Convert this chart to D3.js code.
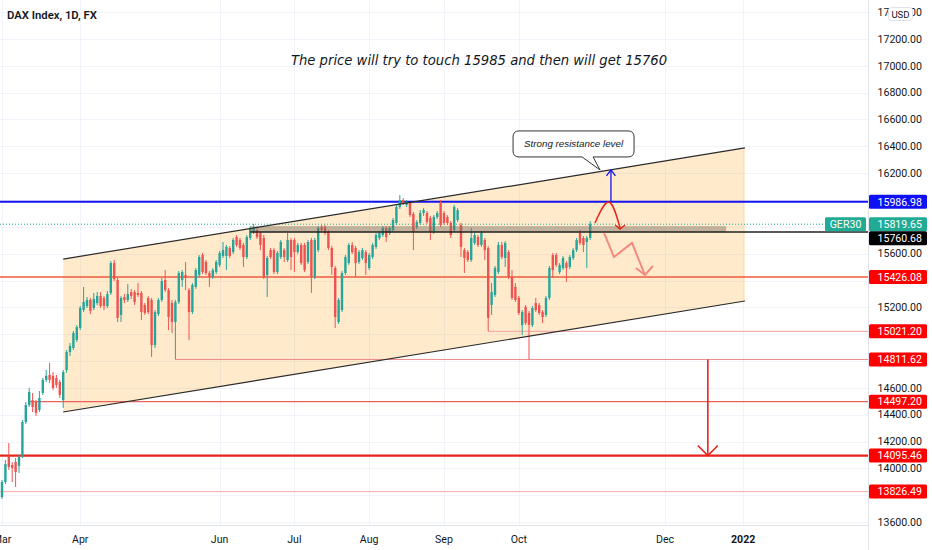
<!DOCTYPE html>
<html><head><meta charset="utf-8">
<script src="https://cdn.jsdelivr.net/npm/d3@7"></script>
<style>html,body{margin:0;padding:0;background:#fff;} svg{display:block;}</style>
</head><body><svg id="c" width="932" height="550"></svg>
<script>
// ---------- DATA (FX:GER30 daily, Mar–Nov 2021) ----------
const opens=[
13786,13898,14085,14025,14047,14018,14092,14345,14472,14509,
14494,14435,14562,14659,14696,14689,14674,14644,14509,14733,
14867,14897,14957,15046,15180,15210,15255,15195,15232,15285,
15270,15210,15307,15530,15404,15143,15277,15255,15314,15314,
15307,15307,15217,15270,15255,14919,15150,15255,15404,15329,
15232,15091,15240,15404,15441,15329,15165,15352,15441,15590,
15538,15456,15426,15463,15516,15583,15583,15642,15612,15724,
15702,15665,15575,15717,15762,15776,15754,15717,15441,15627,
15627,15463,15575,15627,15553,15702,15702,15612,15665,15665,
15538,15702,15426,15627,15799,15799,15762,15642,15493,15091,
15180,15456,15530,15665,15642,15538,15568,15612,15493,15575,
15650,15717,15739,15791,15754,15776,15829,15948,16000,15963,
15978,15896,15799,15829,15903,15903,15866,15762,15873,15985,
15903,15873,15829,15776,15851,15814,15627,15612,15553,15680,
15724,15665,15702,15642,15217,15292,15463,15665,15568,15612,
15426,15352,15270,15068,15203,15158,15068,15232,15217,15165,
15143,15270,15590,15590,15463,15493,15530,15501,15568,15627,
15754,15717,15687,15717];
const highs=[
13913,14062,14189,14047,14077,14100,14360,14494,14599,14562,
14509,14576,14674,14733,14785,14718,14696,14659,14733,14882,
14934,15024,15068,15210,15352,15277,15270,15307,15314,15314,
15285,15322,15545,15553,15419,15285,15299,15374,15337,15329,
15381,15322,15232,15285,15270,15180,15270,15419,15478,15344,
15255,15255,15471,15478,15538,15344,15381,15493,15590,15605,
15553,15471,15493,15553,15620,15687,15665,15657,15717,15739,
15717,15680,15739,15806,15821,15791,15769,15739,15583,15642,
15642,15620,15702,15642,15754,15717,15717,15680,15680,15680,
15702,15717,15717,15806,15814,15814,15776,15657,15508,15270,
15471,15590,15680,15687,15657,15627,15642,15627,15605,15680,
15754,15769,15806,15806,15806,15866,15963,16037,16015,16000,
15985,15911,15851,15925,15940,15918,15881,15888,15918,16000,
15918,15888,15843,15963,15940,15829,15642,15627,15791,15754,
15739,15769,15717,15657,15381,15508,15687,15687,15694,15627,
15478,15381,15285,15180,15217,15173,15210,15270,15232,15180,
15285,15508,15605,15605,15530,15583,15545,15590,15642,15717,
15776,15732,15732,15843];
const lows=[
13772,13883,13988,13898,13861,13965,14077,14331,14457,14420,
14390,14420,14547,14644,14636,14584,14599,14524,14450,14711,
14837,14882,14942,15031,15165,15195,15150,15180,15217,15195,
15180,15195,15292,15396,15091,15091,15232,15240,15262,15217,
15277,15106,15143,15150,14830,14897,15135,15240,15314,15031,
15009,14812,15225,15352,15329,14957,15150,15337,15426,15448,
15441,15352,15411,15448,15501,15568,15478,15568,15598,15650,
15627,15501,15560,15702,15747,15709,15627,15411,15277,15560,
15448,15448,15560,15538,15538,15478,15463,15598,15516,15463,
15523,15307,15411,15612,15762,15739,15627,15441,15046,15076,
15165,15441,15516,15598,15426,15523,15553,15441,15478,15560,
15635,15702,15724,15687,15739,15762,15814,15933,15963,15948,
15873,15627,15784,15814,15881,15821,15702,15747,15858,15799,
15814,15814,15717,15762,15836,15575,15456,15538,15538,15665,
15650,15650,15553,15021,15143,15277,15448,15560,15501,15411,
15255,15240,15143,14994,15068,14812,15053,15165,15143,15083,
15128,15255,15419,15501,15448,15478,15389,15486,15553,15612,
15665,15612,15493,15702];
const closes=[
13898,14032,14010,14003,13973,14085,14345,14472,14569,14457,
14413,14524,14659,14689,14659,14599,14621,14547,14718,14867,
14912,15009,15053,15195,15240,15255,15173,15262,15285,15210,
15210,15299,15530,15411,15121,15270,15255,15299,15285,15240,
15292,15165,15158,15165,14919,15165,15255,15396,15329,15128,
15091,15240,15456,15463,15419,15165,15367,15478,15575,15463,
15456,15426,15478,15538,15605,15627,15650,15583,15702,15665,
15642,15575,15724,15791,15791,15724,15665,15426,15568,15575,
15463,15605,15687,15575,15702,15575,15612,15665,15530,15478,
15687,15426,15702,15791,15776,15754,15642,15501,15128,15255,
15456,15575,15665,15612,15530,15612,15627,15530,15590,15665,
15739,15754,15791,15724,15791,15851,15948,16000,15978,15985,
15888,15762,15836,15903,15925,15836,15762,15873,15903,15814,
15829,15829,15739,15948,15925,15650,15568,15553,15717,15739,
15665,15754,15627,15121,15314,15493,15665,15575,15680,15426,
15270,15255,15158,15165,15083,15068,15195,15180,15158,15128,
15270,15493,15478,15516,15516,15568,15493,15575,15627,15702,
15680,15665,15717,15819.65];

const monthLabels=["Mar","Apr","Jun","Jul","Aug","Sep","Oct","Dec","2022"];
const monthBars=[0,23,64,86,108,130,152,195,218];
const priceTicks=[17400,17200,17000,16800,16600,16400,16200,16000,15800,15600,15400,15200,15000,14800,14600,14400,14200,14000,13800,13600];

const levelPrices=[15986.98,15426.08,15021.20,14811.62,14497.20,14095.46,13826.49];
const levelStartBars=[-3,-3,143,51,8,-3,-3];
const lastPrice=15819.65, symbolName="GER30";
const keyLevel=15760.68, keyLevelStartBar=73;
const zoneTop=15805, zoneEndBar=213;
const channelUpper=[[18,15560],[218.5,16388]];
const channelLower=[[18,14420],[218.5,15247]];
const downArrow=[[207.6,14811.62],[207.6,14095.46]];
const upArrow=[[179.1,15986.98],[179.1,16224]];
const arcPath=[[174.4,15829],[178.5,15985],[181.8,15791]];
const zigzagPath=[[177.1,15754],[180,15575],[185.3,15680],[189.1,15441]];
const calloutTip=[175.9,16224];
const calloutText="Strong resistance level";
const titleText="DAX Index, 1D, FX";
const noteText="The price will try to touch 15985 and then will get 15760";

// ---------- DRAW ----------
const W=932,H=550,PR=868,PB=525;
const svg=d3.select("#c");
const x=d3.scaleLinear().domain([0,218]).range([2,743.2]);
const y=d3.scaleLinear().domain([13600,17200]).range([522,39]);
const AX="Roboto, 'Liberation Sans', sans-serif";
const defs=svg.append("defs");
defs.append("clipPath").attr("id","plot").append("rect").attr("x",0).attr("y",0).attr("width",PR).attr("height",PB);
const g=svg.append("g").attr("clip-path","url(#plot)");

// grid
g.selectAll(".hg").data(priceTicks).enter().append("line")
 .attr("x1",0).attr("x2",PR).attr("y1",d=>Math.round(y(d))+0.5).attr("y2",d=>Math.round(y(d))+0.5)
 .attr("stroke","#f0f3fa").attr("stroke-width",1);
g.selectAll(".vg").data(monthBars).enter().append("line")
 .attr("y1",0).attr("y2",PB).attr("x1",d=>Math.round(x(d))+0.5).attr("x2",d=>Math.round(x(d))+0.5)
 .attr("stroke","#f0f3fa").attr("stroke-width",1);

// channel fill
const chPoly=[channelUpper[0],channelUpper[1],channelLower[1],channelLower[0]];
g.append("path").attr("d","M"+chPoly.map(p=>x(p[0])+","+y(p[1])).join("L")+"Z")
 .attr("fill","rgba(255,152,0,0.2)");

// horizontal levels
const levelStyles=[
 {c:"#1414f0",w:2},{c:"#f05a3c",w:1.6},{c:"#f2a0a0",w:1},{c:"#ef8a8a",w:1},
 {c:"#f0605a",w:1.2},{c:"#e8231a",w:2.2},{c:"#f5a8a8",w:1}];
levelPrices.forEach((p,i)=>{
  g.append("line").attr("x1",x(levelStartBars[i])).attr("x2",PR)
   .attr("y1",y(p)).attr("y2",y(p)).attr("stroke",levelStyles[i].c).attr("stroke-width",levelStyles[i].w);
});
// current price dotted line
g.append("line").attr("x1",0).attr("x2",825).attr("y1",y(lastPrice)).attr("y2",y(lastPrice))
 .attr("stroke","#22ab94").attr("stroke-width",1).attr("stroke-dasharray","1,2");

// candles
const N=closes.length;
const bw=2.4;
const cg=g.append("g");
for(let i=0;i<N;i++){
  const up=closes[i]>=opens[i];
  const col=up?"#26a69a":"#ef5350";
  const cx=x(i);
  cg.append("line").attr("x1",cx).attr("x2",cx).attr("y1",y(highs[i])).attr("y2",y(lows[i]))
    .attr("stroke",col).attr("stroke-width",1);
  const t=y(Math.max(opens[i],closes[i])), b=y(Math.min(opens[i],closes[i]));
  cg.append("rect").attr("x",cx-bw/2).attr("y",t).attr("width",bw).attr("height",Math.max(1,b-t)).attr("fill",col);
}

// zone + key level
g.append("rect").attr("x",x(keyLevelStartBar)).attr("y",y(zoneTop))
 .attr("width",x(zoneEndBar)-x(keyLevelStartBar)).attr("height",y(keyLevel)-y(zoneTop))
 .attr("fill","rgba(120,108,96,0.45)");
g.append("line").attr("x1",x(keyLevelStartBar)).attr("x2",PR).attr("y1",y(keyLevel)).attr("y2",y(keyLevel))
 .attr("stroke","#222").attr("stroke-width",1.5);

// channel lines
[channelUpper,channelLower].forEach(l=>{
  g.append("line").attr("x1",x(l[0][0])).attr("y1",y(l[0][1])).attr("x2",x(l[1][0])).attr("y2",y(l[1][1]))
   .attr("stroke","#2a2a2a").attr("stroke-width",1.2);
});

// arrows
function chevron(px,py,dx,dy,col,w){ // tip at px,py
  g.append("path").attr("d",`M${px-dx},${py+dy}L${px},${py}L${px+dx},${py+dy}`)
   .attr("fill","none").attr("stroke",col).attr("stroke-width",w).attr("stroke-linejoin","miter");
}
g.append("line").attr("x1",x(downArrow[0][0])).attr("x2",x(downArrow[1][0]))
 .attr("y1",y(downArrow[0][1])).attr("y2",y(downArrow[1][1])).attr("stroke","#e8231a").attr("stroke-width",1.6);
chevron(x(downArrow[1][0]),y(downArrow[1][1]),10,-10,"#e8231a",1.6);

g.append("line").attr("x1",x(upArrow[0][0])).attr("x2",x(upArrow[1][0]))
 .attr("y1",y(upArrow[0][1])).attr("y2",y(upArrow[1][1])).attr("stroke","#1414f0").attr("stroke-width",1.3);
chevron(x(upArrow[1][0]),y(upArrow[1][1]),4.5,6,"#1414f0",1.3);

const lineGen=d3.line().x(d=>x(d[0])).y(d=>y(d[1]));
g.append("path").attr("d",lineGen.curve(d3.curveNatural)(arcPath))
 .attr("fill","none").attr("stroke","#e8231a").attr("stroke-width",1.4);
{
 const e=arcPath[2]; chevron(x(e[0]),y(e[1])+1,5,-4,"#e8231a",1.4);
}
g.append("path").attr("d",d3.line().x(d=>x(d[0])).y(d=>y(d[1]))(zigzagPath))
 .attr("fill","none").attr("stroke","#f28a80").attr("stroke-width",2);
{
 const e=zigzagPath[3];
 const ex=x(e[0]),ey=y(e[1]);
 g.append("path").attr("d",`M${ex-9},${ey-7}L${ex},${ey}L${ex+8},${ey-9}`)
  .attr("fill","none").attr("stroke","#f28a80").attr("stroke-width",2);
}

// callout
{
 const tx=x(calloutTip[0]), ty=y(calloutTip[1]);
 const bx=tx-87, by=ty-39, bwid=121, bh=26;
 const cg2=svg.append("g");
 cg2.append("path").attr("d",
  `M${bx+6},${by}H${bx+bwid-6}Q${bx+bwid},${by} ${bx+bwid},${by+6}V${by+bh-6}Q${bx+bwid},${by+bh} ${bx+bwid-6},${by+bh}`+
  `H${tx-7}L${tx},${ty}L${tx-18},${by+bh}H${bx+6}Q${bx},${by+bh} ${bx},${by+bh-6}V${by+6}Q${bx},${by} ${bx+6},${by}Z`)
  .attr("fill","#fff").attr("stroke","#333").attr("stroke-width",1);
 cg2.append("text").attr("x",bx+bwid/2).attr("y",by+16.5).attr("text-anchor","middle")
  .attr("font-family","'Liberation Sans', Arial, sans-serif").attr("font-style","italic")
  .attr("font-size","9.8px").attr("fill","#131722").text(calloutText);
}

// texts
svg.append("text").attr("x",7).attr("y",18.5).attr("font-family",AX).attr("font-weight",600)
 .attr("font-size","11.3px").attr("fill","#131722").text(titleText);
svg.append("text").attr("x",479).attr("y",64.5).attr("text-anchor","middle")
 .attr("font-family","'DejaVu Sans', sans-serif").attr("font-style","italic")
 .attr("font-size","13.2px").attr("fill","#131722").text(noteText);

// axes borders
svg.append("line").attr("x1",PR+0.5).attr("x2",PR+0.5).attr("y1",0).attr("y2",H).attr("stroke","#e0e3eb");
svg.append("line").attr("x1",0).attr("x2",PR).attr("y1",PB+0.5).attr("y2",PB+0.5).attr("stroke","#e0e3eb");

// price labels (with collision avoidance)
const labelColors=["#1010f5","#ff0000","#ff0000","#ff0000","#ff0000","#ff0000","#ff0000"];
let labels=levelPrices.map((p,i)=>({p,c:labelColors[i]}));
labels.push({p:lastPrice,c:"#22ab94"});
labels.push({p:keyLevel,c:"#000000"});
labels.forEach(l=>l.y=y(l.p));
labels.sort((a,b)=>a.y-b.y);
for(let i=1;i<labels.length;i++){ if(labels[i].y-labels[i-1].y<14) labels[i].y=labels[i-1].y+14; }

// tick labels (hidden under price labels)
const tg=svg.append("g");
priceTicks.forEach(t=>{
  const ty=y(t);
  if(labels.some(l=>Math.abs(l.y-ty)<12)) return;
  tg.append("text").attr("x",877.5).attr("y",ty+3.7).attr("font-family",AX).attr("font-size","10.6px")
   .attr("fill","#131722").text(d3.format(".2f")(t));
});
labels.forEach(l=>{
  svg.append("rect").attr("x",PR+1).attr("y",l.y-7).attr("width",58).attr("height",14).attr("rx",1.5).attr("fill",l.c);
  svg.append("text").attr("x",877.5).attr("y",l.y+3.8).attr("font-family",AX).attr("font-size","10.6px")
   .attr("fill","#fff").text(d3.format(".2f")(l.p));
});
// symbol tag
{
 const ly=y(lastPrice);
 svg.append("rect").attr("x",825).attr("y",ly-7).attr("width",41).attr("height",14).attr("rx",1.5).attr("fill","#22ab94");
 svg.append("text").attr("x",845.5).attr("y",ly+3.8).attr("text-anchor","middle").attr("font-family",AX)
  .attr("font-size","10.6px").attr("fill","#fff").text(symbolName);
}
// USD button
svg.append("rect").attr("x",888.5).attr("y",7.5).attr("width",24).attr("height",13).attr("rx",3)
 .attr("fill","#fff").attr("stroke","#e0e3eb");
svg.append("text").attr("x",900.5).attr("y",17.5).attr("text-anchor","middle").attr("font-family",AX)
 .attr("font-size","9.6px").attr("fill","#131722").text("USD");

// time labels
monthLabels.forEach((m,i)=>{
  svg.append("text").attr("x",x(monthBars[i])).attr("y",542.5).attr("text-anchor","middle")
   .attr("font-family",AX).attr("font-size","10.6px").attr("font-weight",m==="2022"?700:400)
   .attr("fill","#131722").text(m);
});
</script></body></html>
